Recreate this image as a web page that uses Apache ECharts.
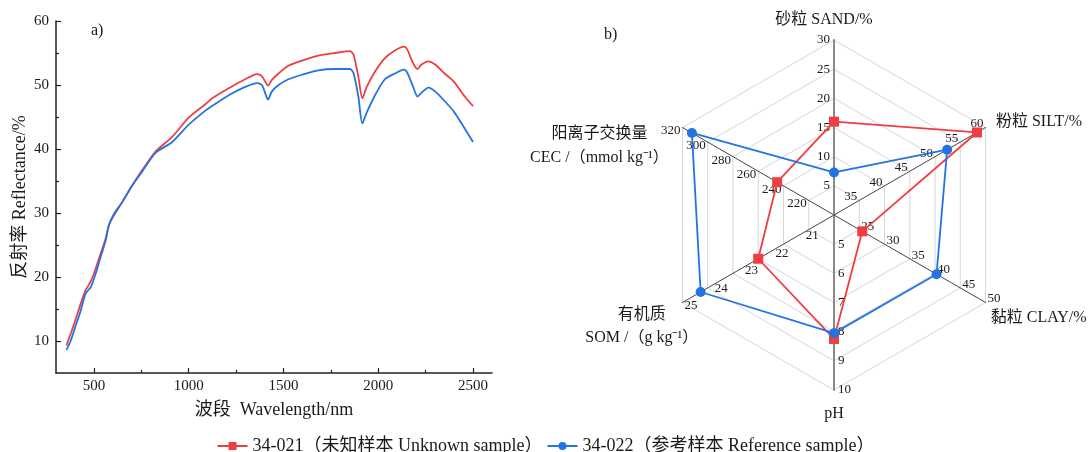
<!DOCTYPE html>
<html>
<head>
<meta charset="utf-8">
<script src="https://cdn.jsdelivr.net/npm/echarts@6/dist/echarts.min.js"></script>
<style>html,body{margin:0;padding:0;background:#fff}#chart{width:1091px;height:452px}</style>
</head>
<body>
<div id="chart"></div>
<script>
// ---------- data ----------
const seriesNames = ['34-021（未知样本 Unknown sample）', '34-022（参考样本 Reference sample）'];

const wavelengths = [355, 377, 404, 430, 456, 483, 509, 535, 562, 579, 605, 649, 702, 755, 825, 913, 1000, 1088, 1123, 1211, 1298, 1360, 1386, 1404, 1418, 1439, 1474, 1526, 1597, 1684, 1772, 1851, 1870, 1895, 1916, 1939, 1983, 2035, 2088, 2135, 2152, 2184, 2207, 2228, 2265, 2300, 2350, 2400, 2456, 2500];
const reflUnknown = [9.3, 11.1, 13.4, 15.8, 17.9, 19.3, 21.3, 23.6, 26.0, 28.1, 29.6, 31.7, 34.3, 36.7, 39.6, 41.9, 44.9, 47.0, 47.9, 49.5, 50.9, 51.7, 51.4, 50.5, 49.9, 50.8, 51.8, 53.0, 53.8, 54.6, 55.0, 55.3, 54.7, 51.3, 47.9, 49.7, 52.1, 54.2, 55.4, 56.0, 55.6, 53.4, 52.5, 53.2, 53.7, 53.2, 51.8, 50.5, 48.2, 46.7];
const reflReference = [8.6, 10.0, 12.4, 14.7, 17.4, 18.4, 20.5, 23.1, 25.7, 28.1, 29.8, 31.7, 34.3, 36.5, 39.4, 41.1, 43.8, 46.0, 46.7, 48.4, 49.7, 50.3, 50.0, 48.7, 47.7, 49.0, 50.0, 50.9, 51.6, 52.3, 52.5, 52.5, 51.8, 48.2, 44.0, 45.7, 48.4, 50.9, 51.8, 52.4, 52.0, 49.7, 48.2, 48.8, 49.6, 49.0, 47.5, 45.8, 43.2, 41.1];

const xTickLabels = [500, 1000, 1500, 2000, 2500];
const xMinorTicks = [750, 1250, 1750, 2250];
const yTickLabels = [10, 20, 30, 40, 50, 60];
const yMinorTicks = [15, 25, 35, 45, 55];

// radar indicators (counter-clockwise from top)
const radarNames = ['砂粒 SAND/%', '{d|阳离子交换量}\n{d|CEC /（mmol kg⁻¹）}', '{c|有机质}\n{c|SOM /（g kg⁻¹）}', 'pH', '黏粒 CLAY/%', '粉粒 SILT/%'];
const radarMin = [0, 200, 20, 4, 20, 30];
const radarMax = [30, 320, 25, 10, 50, 60];
const radarUnknown = [16, 245, 22.5, 8.25, 25.6, 58.3];
const radarReference = [7.3, 312.5, 24.4, 8.05, 40.3, 52.4];

// ---------- style ----------
const SERIF = "'Liberation Serif', 'Times New Roman', 'Noto Sans CJK SC', serif";
const RED = '#EF3E42';
const BLUE = '#2473E3';
const TXT = '#1a1a1a';

const perIndicator = [
  { nameGap: 12, nameTextStyle: { padding: [0, 20, 0, 0] }, axisLine: { lineStyle: { color: '#8a8a8a', width: 2 } } },
  { nameGap: 30, nameMoveOverlap: false, nameTextStyle: { align: 'right', verticalAlign: 'top', padding: [9, 0, 0, 0] } },
  { nameGap: 47, nameTextStyle: { align: 'center', verticalAlign: 'middle' }, axisLabel: { show: false } },
  { nameGap: 16, axisLine: { lineStyle: { color: '#8a8a8a', width: 2 } } },
  { nameGap: 6, nameTextStyle: { verticalAlign: 'top', padding: [4, 0, 0, 0] } },
  { nameGap: 12 }
];

const chart = echarts.init(document.getElementById('chart'), null, { renderer: 'canvas' });

const option = {
  backgroundColor: '#fff',
  animation: false,
  textStyle: { fontFamily: SERIF },
  title: [
    { text: 'a)', left: 86, top: 18, textStyle: { fontFamily: SERIF, fontSize: 16, fontWeight: 'normal', color: TXT } },
    { text: 'b)', left: 599, top: 22, textStyle: { fontFamily: SERIF, fontSize: 16, fontWeight: 'normal', color: TXT } }
  ],
  legend: {
    top: 432, left: 'center', itemWidth: 30, itemHeight: 10, itemGap: 4,
    textStyle: { fontFamily: SERIF, fontSize: 18, color: TXT },
    data: seriesNames
  },
  grid: { left: 56, top: 21, right: 599, bottom: 79, outerBoundsMode: 'none' },
  xAxis: [{
    type: 'value', min: 300, max: 2600,
    name: '波段  Wavelength/nm', nameLocation: 'middle', nameGap: 28,
    nameTextStyle: { fontFamily: SERIF, fontSize: 18, color: TXT },
    axisLine: { lineStyle: { color: '#222', width: 1.5 } },
    axisTick: { inside: true, length: 5, customValues: xTickLabels, lineStyle: { color: '#222', width: 1.2 } },
    axisLabel: { customValues: xTickLabels, formatter: v => String(v), fontFamily: SERIF, fontSize: 15, color: TXT, margin: 6 },
    splitLine: { show: false }
  }, {
    type: 'value', min: 300, max: 2600, position: 'bottom', gridIndex: 0,
    axisLine: { show: false },
    axisTick: { inside: true, length: 3, customValues: xMinorTicks, lineStyle: { color: '#222', width: 1.2 } },
    axisLabel: { show: false },
    splitLine: { show: false }
  }],
  yAxis: [{
    type: 'value', min: 5, max: 60,
    name: '反射率 Reflectance/%', nameLocation: 'middle', nameGap: 27,
    nameTextStyle: { fontFamily: SERIF, fontSize: 18, color: TXT },
    axisLine: { show: true, lineStyle: { color: '#222', width: 1.5 } },
    axisTick: { show: true, inside: true, length: 5, customValues: yTickLabels, lineStyle: { color: '#222', width: 1.2 } },
    axisLabel: { customValues: yTickLabels, formatter: v => String(v), fontFamily: SERIF, fontSize: 15, color: TXT, margin: 7 },
    splitLine: { show: false }
  }, {
    type: 'value', min: 5, max: 60, position: 'left', gridIndex: 0, offset: 0,
    axisLine: { show: false },
    axisTick: { show: true, inside: true, length: 3, customValues: yMinorTicks, lineStyle: { color: '#222', width: 1.2 } },
    axisLabel: { show: false },
    splitLine: { show: false }
  }],
  radar: [{
    center: [834, 215], radius: 175, startAngle: 90, splitNumber: 6, shape: 'polygon',
    indicator: radarNames.map((n, i) => Object.assign({ name: n, min: radarMin[i], max: radarMax[i] }, perIndicator[i])),
    axisName: {
      show: true, color: TXT, fontFamily: SERIF, fontSize: 16,
      rich: {
        c: { width: 140, align: 'center', fontFamily: SERIF, fontSize: 16, color: TXT, lineHeight: 23 },
        d: { width: 114, align: 'center', fontFamily: SERIF, fontSize: 16, color: TXT, lineHeight: 24 }
      }
    },
    nameGap: 12,
    axisLine: { lineStyle: { color: '#454545', width: 1 } },
    splitLine: { lineStyle: { color: '#d6d6d6', width: 1 } },
    splitArea: { show: false },
    axisTick: { show: false },
    axisLabel: { show: true, showMinLabel: false, fontFamily: SERIF, fontSize: 13, color: TXT, margin: 4 }
  }, {
    center: [834, 215], radius: 175, startAngle: 90, splitNumber: 5, shape: 'polygon',
    indicator: radarNames.map((n, i) => ({ name: '', min: radarMin[i], max: radarMax[i], axisLabel: { show: i === 2 } })),
    axisName: { show: false },
    axisLine: { show: false },
    splitLine: { show: false },
    splitArea: { show: false },
    axisTick: { show: false },
    axisLabel: { show: false, showMinLabel: false, fontFamily: SERIF, fontSize: 13, color: TXT, margin: 4 }
  }],
  series: [
    {
      name: seriesNames[0], type: 'line', xAxisIndex: 0, yAxisIndex: 0,
      data: wavelengths.map((w, i) => [w, reflUnknown[i]]),
      symbol: 'rect', showSymbol: false, smooth: 0.25,
      lineStyle: { color: RED, width: 1.8 }, itemStyle: { color: RED }
    },
    {
      name: seriesNames[1], type: 'line', xAxisIndex: 0, yAxisIndex: 0,
      data: wavelengths.map((w, i) => [w, reflReference[i]]),
      symbol: 'circle', showSymbol: false, smooth: 0.25,
      lineStyle: { color: BLUE, width: 1.8 }, itemStyle: { color: BLUE }
    },
    {
      name: seriesNames[0], type: 'radar', radarIndex: 0,
      symbol: 'rect', symbolSize: 10,
      lineStyle: { color: RED, width: 1.8 }, itemStyle: { color: RED },
      data: [{ value: radarUnknown, name: seriesNames[0] }]
    },
    {
      name: seriesNames[1], type: 'radar', radarIndex: 0,
      symbol: 'circle', symbolSize: 10,
      lineStyle: { color: BLUE, width: 1.8 }, itemStyle: { color: BLUE },
      data: [{ value: radarReference, name: seriesNames[1] }]
    }
  ]
};
chart.setOption(option);
</script>
</body>
</html>
